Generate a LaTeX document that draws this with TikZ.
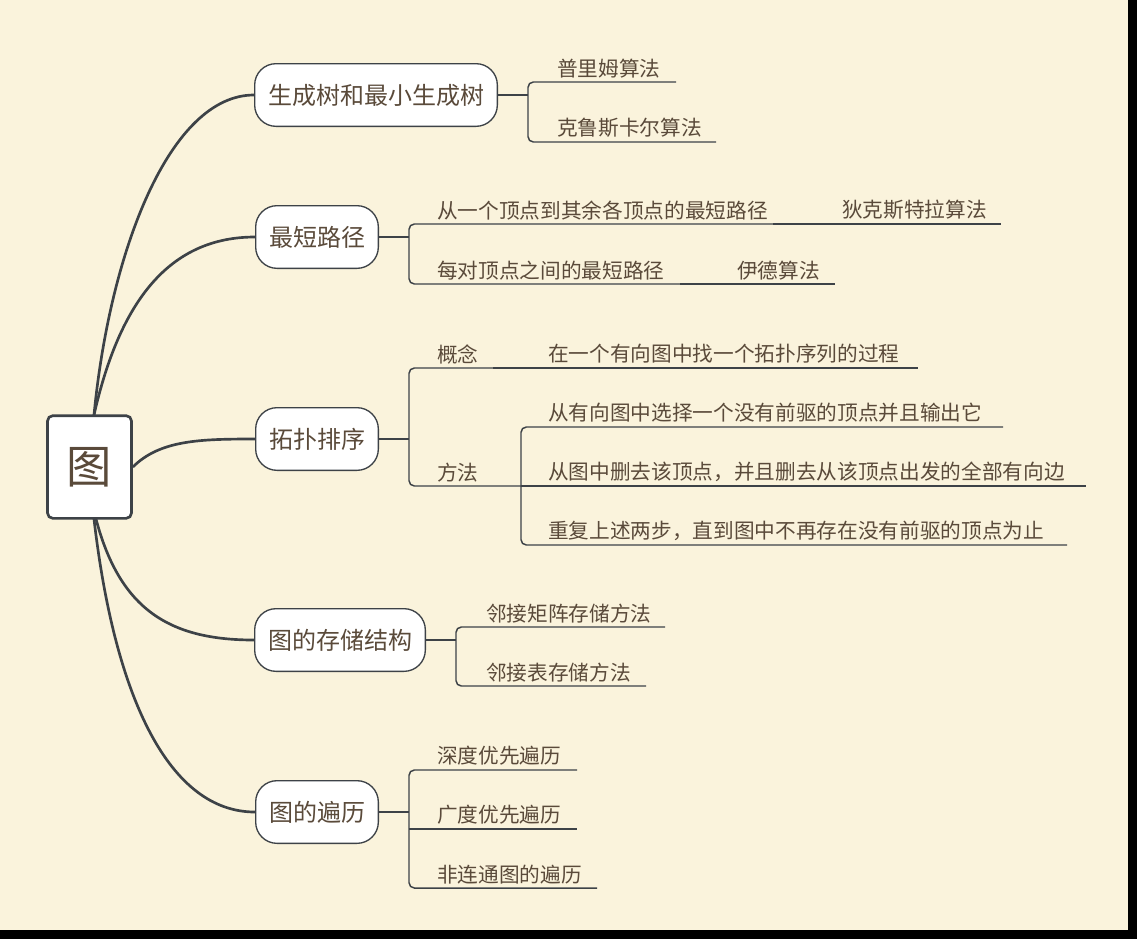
\documentclass[tikz,border=0pt]{standalone}
\usepackage{fontspec}
\newfontfamily\cjk{Noto Sans CJK SC}
\definecolor{bg}{HTML}{FAF3DC}
\definecolor{ln}{HTML}{3D4247}
\definecolor{tx}{HTML}{5A4A3A}
\tikzset{
  pill/.style={draw=ln,line width=1pt,fill=white,rounded corners=16pt,minimum height=47pt,inner xsep=10pt,text=tx,font=\cjk\fontsize{18}{20}\selectfont},
  leaf/.style={anchor=south west,inner sep=0pt,text=tx,font=\cjk\fontsize{15.5}{17}\selectfont},
  trunk/.style={draw=ln,line width=2pt},
  br/.style={draw=ln,line width=1.1pt,rounded corners=4pt}
}
\begin{document}
\begin{tikzpicture}[x=0.75pt,y=-0.75pt]
\fill[black] (0,0) rectangle (1137,939);
\fill[bg] (0,0) rectangle (1128,930);
\useasboundingbox (0,0) rectangle (1137,939);
% root
\node[draw=ln,line width=2pt,fill=white,rounded corners=4pt,minimum width=63pt,minimum height=77pt,text=tx,font=\cjk\fontsize{34}{36}\selectfont] (root) at (89.5,467) {图};
% branches
\node[pill] (b1) at (376,95) {生成树和最小生成树};
\node[pill] (b2) at (317,237) {最短路径};
\node[pill] (b3) at (317,439) {拓扑排序};
\node[pill] (b4) at (340,640) {图的存储结构};
\node[pill] (b5) at (317,812) {图的遍历};
\draw[trunk] (94,415) .. controls (110,250) and (170,95) .. (b1.west);
\draw[trunk] (94,415) .. controls (120,300) and (170,237) .. (b2.west);
\draw[trunk] (root.east) .. controls (160,440) and (200,439) .. (b3.west);
\draw[trunk] (96,519) .. controls (120,610) and (170,640) .. (b4.west);
\draw[trunk] (94,519) .. controls (115,700) and (170,812) .. (b5.west);
% b1 leaves
\node[leaf] (l11) at (557,78) {普里姆算法};
\node[leaf] (l12) at (557,138) {克鲁斯卡尔算法};
\draw[br] (b1.east) -- (528,95);
\draw[br] (676,82) -- (528,82) -- (528,142) -- (716,142);
% b2
\node[leaf] (l21) at (437,220) {从一个顶点到其余各顶点的最短路径};
\node[leaf] (l22) at (437,280) {每对顶点之间的最短路径};
\node[leaf] (l211) at (842,220) {狄克斯特拉算法};
\node[leaf] (l221) at (737,280) {伊德算法};
\draw[br] (b2.east) -- (409,237);
\draw[br] (773,224) -- (409,224) -- (409,284) -- (680,284);
\draw[br] (773,224) -- (1001,224);
\draw[br] (680,284) -- (835,284);
% b3
\node[leaf] (l31) at (437,364) {概念};
\node[leaf] (l32) at (437,482) {方法};
\node[leaf] (l311) at (548,364) {在一个有向图中找一个拓扑序列的过程};
\node[leaf] (l321) at (548,423) {从有向图中选择一个没有前驱的顶点并且输出它};
\node[leaf] (l322) at (548,482) {从图中删去该顶点，并且删去从该顶点出发的全部有向边};
\node[leaf] (l323) at (548,541) {重复上述两步，直到图中不再存在没有前驱的顶点为止};
\draw[br] (b3.east) -- (409,439);
\draw[br] (493,368) -- (409,368) -- (409,486) -- (521,486);
\draw[br] (493,368) -- (918,368);
\draw[br] (1003,427) -- (521,427) -- (521,545) -- (1067,545);
\draw[br] (521,486) -- (1086,486);
% b4
\node[leaf] (l41) at (486,623) {邻接矩阵存储方法};
\node[leaf] (l42) at (486,682) {邻接表存储方法};
\draw[br] (b4.east) -- (456,640);
\draw[br] (665,627) -- (456,627) -- (456,686) -- (646,686);
% b5
\node[leaf] (l51) at (437,766) {深度优先遍历};
\node[leaf] (l52) at (437,825) {广度优先遍历};
\node[leaf] (l53) at (437,884) {非连通图的遍历};
\draw[br] (b5.east) -- (409,812);
\draw[br] (577,770) -- (409,770) -- (409,888) -- (597,888);
\draw[br] (409,829) -- (577,829);
\end{tikzpicture}
\end{document}
